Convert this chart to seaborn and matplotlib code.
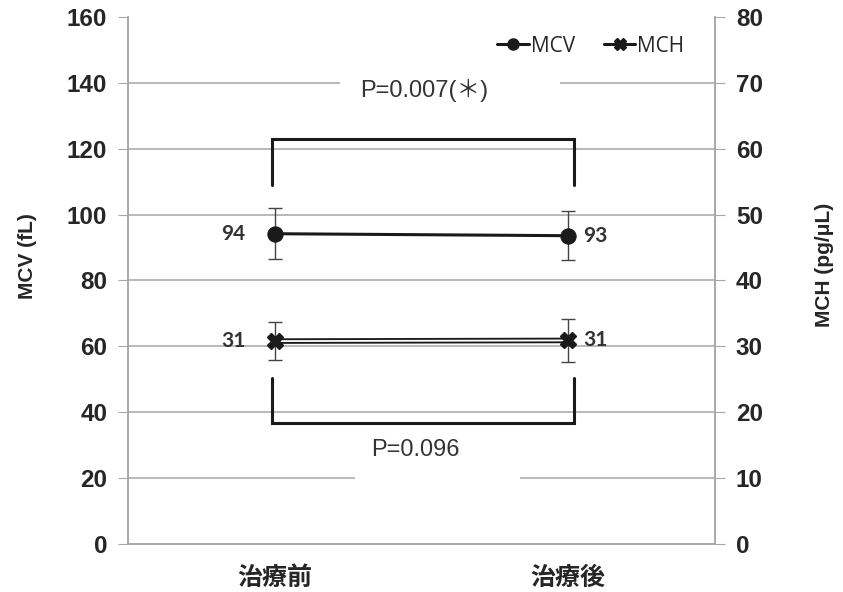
import numpy as np
import pandas as pd
import matplotlib
matplotlib.use("Agg")
import matplotlib.pyplot as plt
import seaborn as sns
from matplotlib.lines import Line2D
from matplotlib.patches import Rectangle

# data
stages = ["治療前", "治療後"]
mcv_mean = [94.2, 93.6]
mcv_sd = [7.8, 7.5]
mcv_labels = ["94", "93"]
mch_mean = [30.8, 30.9]
mch_sd = [2.9, 3.2]
mch_labels = ["31", "31"]
p_top = "P=0.007(＊)"
p_bottom = "P=0.096"
bracket_top = (123, 109)      # bar height, leg end (MCV axis)
bracket_bottom = (36.7, 50.5)

sns.set_style("white")
plt.rcParams["font.family"] = ["Liberation Sans", "Noto Sans CJK JP", "DejaVu Sans"]

df = pd.DataFrame({"stage": stages, "pos": [0, 1], "mcv": mcv_mean, "mch": mch_mean})

fig = plt.figure(figsize=(8.43, 5.92), dpi=100)
ax = fig.add_axes([0.1518, 0.0811, 0.6964, 0.8902])
ax2 = ax.twinx()

grid_c = "#a6a6a6"
ink = "#1a1a1a"

ax.set_xlim(-0.5, 1.5)
ax.set_ylim(0, 160)
ax2.set_ylim(0, 80)
ax.set_yticks(np.arange(0, 161, 20))
ax2.set_yticks(np.arange(0, 81, 10))
for y in np.arange(20, 141, 20):
    ax.axhline(y, color=grid_c, lw=1.1, zorder=0)

# MCV (left axis)
ax.errorbar(df["pos"], df["mcv"], yerr=mcv_sd, fmt="none", ecolor="#444444",
            elinewidth=1.0, capsize=5, capthick=1.0, zorder=3)
sns.lineplot(data=df, x="pos", y="mcv", ax=ax, color=ink, lw=2.2, marker="o",
             markersize=11, markeredgecolor=ink, zorder=4, legend=False)

# MCH (right axis)
ax2.errorbar(df["pos"], df["mch"], yerr=mch_sd, fmt="none", ecolor="#444444",
             elinewidth=1.0, capsize=5, capthick=1.0, zorder=3)
sns.lineplot(data=df, x="pos", y="mch", ax=ax2, color=ink, lw=4.0, zorder=4, legend=False)
sns.lineplot(data=df, x="pos", y="mch", ax=ax2, color="white", lw=1.3, zorder=5, legend=False)
ax2.plot(df["pos"], df["mch"], ls="none", marker="X", markersize=11, color=ink, zorder=6)

# value labels
lab_font = dict(fontsize=15, fontweight="bold", color="#333333", family=["Lato", "DejaVu Sans"])
ax.text(0 - 0.1, mcv_mean[0], mcv_labels[0], ha="right", va="center", **lab_font)
ax.text(1 + 0.05, mcv_mean[1], mcv_labels[1], ha="left", va="center", **lab_font)
ax2.text(0 - 0.1, mch_mean[0], mch_labels[0], ha="right", va="center", **lab_font)
ax2.text(1 + 0.05, mch_mean[1], mch_labels[1], ha="left", va="center", **lab_font)

# significance brackets
xb = [-0.01, 1.02]
ax.plot([xb[0], xb[0], xb[1], xb[1]],
        [bracket_top[1], bracket_top[0], bracket_top[0], bracket_top[1]],
        color=ink, lw=2.2, zorder=5, solid_joinstyle="miter")
ax.plot([xb[0], xb[0], xb[1], xb[1]],
        [bracket_bottom[1], bracket_bottom[0], bracket_bottom[0], bracket_bottom[1]],
        color=ink, lw=2.2, zorder=5, solid_joinstyle="miter")
# white boxes behind the p-value labels break the gridlines
ax.add_patch(Rectangle((0.222, 130), 0.75, 16, facecolor="white", edgecolor="none", zorder=1))
ax.add_patch(Rectangle((0.273, 15), 0.563, 16, facecolor="white", edgecolor="none", zorder=1))
ax.text(0.51, 137.8, p_top, ha="center", va="center", fontsize=17, color="#333333",
        family=["Liberation Sans", "Noto Sans CJK JP"], zorder=6)
ax.text(0.48, 28.5, p_bottom, ha="center", va="center", fontsize=17, color="#333333", zorder=6)

# axes styling
for a in (ax, ax2):
    for s in a.spines.values():
        s.set_color(grid_c)
        s.set_linewidth(1.1)
    a.spines["top"].set_visible(False)
ax.set_xticks([0, 1])
ax.set_xticklabels(stages, fontsize=18, fontweight="bold",
                   family=["Noto Sans CJK JP", "DejaVu Sans"])
ax.set_xticks([-0.5, 0.5, 1.5], minor=True)
ax.tick_params(axis="x", which="major", length=0, pad=16)
ax.tick_params(axis="x", which="minor", length=6, color=grid_c, direction="inout")
ax.tick_params(axis="y", length=7, color=grid_c, labelsize=17.5, pad=8)
ax2.tick_params(axis="y", length=7, color=grid_c, labelsize=17.5, pad=8)
for lbl in ax.get_yticklabels() + ax2.get_yticklabels():
    lbl.set_fontweight("bold")
ax.set_xlabel("")
ax.set_ylabel("MCV (fL)", fontsize=15, fontweight="bold")
ax2.set_ylabel("MCH (pg/μL)", fontsize=15, fontweight="bold")
ax.yaxis.set_label_coords(-0.155, 0.546)
ax2.yaxis.set_label_coords(1.17, 0.53)

handles = [Line2D([], [], color=ink, lw=2.2, marker="o", markersize=8),
           Line2D([], [], color=ink, lw=2.2, marker="X", markersize=9)]
ax.legend(handles, ["MCV", "MCH"], loc="upper right", bbox_to_anchor=(0.98, 1.0),
          ncol=2, frameon=False, handlelength=1.5, handletextpad=0.1, columnspacing=1.4,
          prop={"family": ["Open Sans", "DejaVu Sans"], "size": 15})

fig.savefig("out.png", dpi=100)
